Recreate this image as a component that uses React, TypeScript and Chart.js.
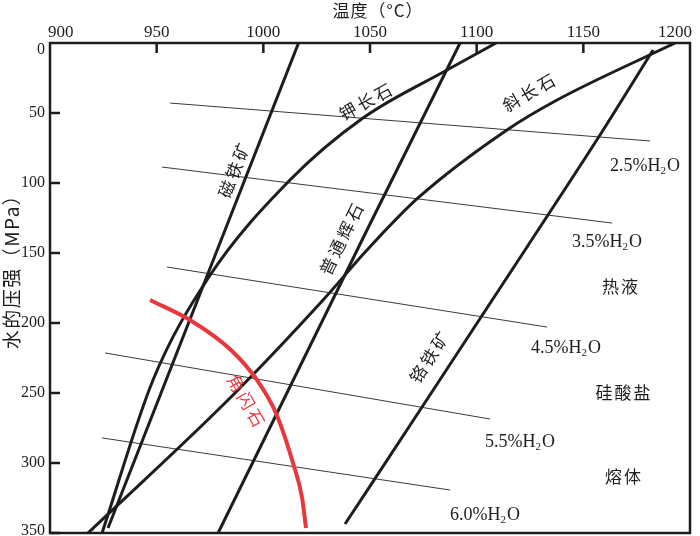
import React, { useEffect, useRef } from 'react';
import { Chart, registerables } from 'chart.js';

Chart.register(...registerables);

// ---- axis ticks ----
const tempTicks = [900, 950, 1000, 1050, 1100, 1150, 1200];
const pressTicks = [0, 50, 100, 150, 200, 250, 300, 350];

// ---- mineral curves (temperature °C, water pressure MPa) ----
const magnetiteT = [1016.5, 927.2];
const magnetiteP = [0, 346.4];

const kfeldsparT = [1109.1, 1086.1, 1046.7, 1012.5, 974.1, 948.3, 924.4];
const kfeldsparP = [0, 19.3, 53.6, 97.9, 168.0, 240.7, 350];

const augiteT = [1092.2, 1048.6, 978.8];
const augiteP = [0, 133.6, 350];

const plagioclaseT = [1193.0, 1137.7, 1114.2, 1072.5, 1048.6, 1028.0, 985.8, 917.8];
const plagioclaseP = [0, 40.7, 62.1, 110.7, 147.9, 183.6, 251.4, 350];

const chromiteT = [1182.7, 1156.9, 1123.6, 1074.4, 1038.3];
const chromiteP = [5.0, 67.9, 145.7, 260.0, 343.6];

const amphiboleT = [946.9, 965.6, 984.8, 997.0, 1005.9, 1013.9, 1018.1, 1020.0];
const amphiboleP = [183.6, 197.9, 219.3, 240.7, 264.3, 300.0, 324.3, 346.4];

// ---- water content isopleths ----
const h2oLabels = ['2.5', '3.5', '4.5', '5.5', '6.0'];
const h2oStartT = [956.3, 952.5, 954.8, 925.8, 924.4];
const h2oStartP = [42.9, 88.6, 160.0, 221.4, 282.1];
const h2oEndT = [1181.3, 1163.4, 1133.0, 1106.3, 1087.5];
const h2oEndP = [70.0, 128.6, 202.9, 268.6, 319.3];
const h2oLabelT = [1178.9, 1161.1, 1141.9, 1120.3, 1103.9];
const h2oLabelP = [87.1, 141.4, 217.1, 284.3, 336.4];

// ---- text annotations ----
const mineralNames = ['磁铁矿', '钾长石', '斜长石', '普通辉石', '铬铁矿'];
const mineralLabelT = [986.5, 1048.5, 1125.0, 1036.9, 1078.1];
const mineralLabelP = [90.0, 41.5, 35.0, 139.3, 223.6];
const mineralAngles = [-69, -29, -30, -64, -57];

const amphiboleName = '角闪石';
const amphiboleLabelT = 992.3;
const amphiboleLabelP = 256.4;
const amphiboleAngle = 60;

const regionNames = ['热液', '硅酸盐', '熔体'];
const regionLabelT = [1167.7, 1169.1, 1169.1];
const regionLabelP = [174.3, 250.0, 310.0];

const xTitle = '温度（°C）';
const yTitle = '水的压强（MPa）';

const INK = '#1d1d1d';
const RED = '#e8383d';
const CJK = '"Noto Sans CJK SC", "Noto Sans", sans-serif';
const SERIF = '"Liberation Serif", "DejaVu Serif", serif';

const pts = (t: number[], p: number[]) => t.map((v, i) => ({ x: v, y: p[i] }));

const decorPlugin = {
  id: 'decor',
  afterDatasetsDraw(chart: any) {
    const { ctx, chartArea, scales } = chart;
    const { left, right, top, bottom } = chartArea;
    const xs = scales.x;
    const ys = scales.y;
    ctx.save();

    // frame
    ctx.strokeStyle = INK;
    ctx.lineWidth = 2.5;
    ctx.strokeRect(left, top, right - left, bottom - top);

    // inward tick marks
    ctx.beginPath();
    tempTicks.forEach((v) => {
      if (v <= xs.min || v >= xs.max) return;
      const px = xs.getPixelForValue(v);
      ctx.moveTo(px, top);
      ctx.lineTo(px, top + 10);
    });
    pressTicks.forEach((v) => {
      if (v <= ys.min) return;
      const py = ys.getPixelForValue(v);
      ctx.moveTo(left, py);
      ctx.lineTo(left + 10, py);
    });
    ctx.stroke();

    // tick labels
    ctx.fillStyle = INK;
    ctx.font = `17px ${SERIF}`;
    ctx.textAlign = 'center';
    ctx.textBaseline = 'alphabetic';
    tempTicks.forEach((v) => {
      const s = String(v);
      const w = ctx.measureText(s).width;
      let cx = xs.getPixelForValue(v);
      cx = Math.max(cx, left - 2 + w / 2);
      cx = Math.min(cx, right + 2 - w / 2);
      ctx.fillText(s, cx, top - 6);
    });
    ctx.font = `16px ${SERIF}`;
    ctx.textAlign = 'right';
    ctx.textBaseline = 'middle';
    pressTicks.forEach((v) => {
      let cy = ys.getPixelForValue(v);
      cy = Math.max(cy, top + 7);
      cy = Math.min(cy, bottom - 2);
      ctx.fillText(String(v), left - 5, cy);
    });

    // axis titles
    ctx.textAlign = 'center';
    ctx.textBaseline = 'middle';
    ctx.font = `17px ${CJK}`;
    (ctx as any).letterSpacing = '1px';
    ctx.fillText(xTitle, (left + right) / 2 + 8, 11);
    ctx.save();
    ctx.translate(12, 267);
    ctx.rotate(-Math.PI / 2);
    ctx.font = `19px ${CJK}`;
    (ctx as any).letterSpacing = '1.5px';
    ctx.fillText(yTitle, 0, 0);
    ctx.restore();

    // mineral labels
    ctx.font = `17px ${CJK}`;
    (ctx as any).letterSpacing = '3px';
    mineralNames.forEach((name, i) => {
      ctx.save();
      ctx.translate(xs.getPixelForValue(mineralLabelT[i]), ys.getPixelForValue(mineralLabelP[i]));
      ctx.rotate((mineralAngles[i] * Math.PI) / 180);
      ctx.fillText(name, 0, 0);
      ctx.restore();
    });
    ctx.save();
    ctx.fillStyle = RED;
    ctx.translate(xs.getPixelForValue(amphiboleLabelT), ys.getPixelForValue(amphiboleLabelP));
    ctx.rotate((amphiboleAngle * Math.PI) / 180);
    ctx.fillText(amphiboleName, 0, 0);
    ctx.restore();

    (ctx as any).letterSpacing = '2px';
    regionNames.forEach((name, i) => {
      ctx.fillText(name, xs.getPixelForValue(regionLabelT[i]), ys.getPixelForValue(regionLabelP[i]));
    });
    (ctx as any).letterSpacing = '0px';

    // H2O labels with subscript
    h2oLabels.forEach((lab, i) => {
      const cx = xs.getPixelForValue(h2oLabelT[i]);
      const cy = ys.getPixelForValue(h2oLabelP[i]);
      const main = `${lab}%H`;
      const big = `18px ${SERIF}`;
      const small = `11px ${SERIF}`;
      ctx.font = big;
      const w1 = ctx.measureText(main).width;
      const w3 = ctx.measureText('O').width;
      ctx.font = small;
      const w2 = ctx.measureText('2').width;
      const total = w1 + w2 + w3 + 1;
      let x0 = cx - total / 2;
      ctx.textAlign = 'left';
      ctx.textBaseline = 'alphabetic';
      const base = cy + 6;
      ctx.font = big;
      ctx.fillText(main, x0, base);
      x0 += w1;
      ctx.font = small;
      ctx.fillText('2', x0, base + 3);
      x0 += w2 + 1;
      ctx.font = big;
      ctx.fillText('O', x0, base);
    });

    ctx.restore();
  },
};

export default function App() {
  const canvasRef = useRef<HTMLCanvasElement | null>(null);

  useEffect(() => {
    const canvas = canvasRef.current;
    if (!canvas) return;

    const mineral = (t: number[], p: number[], curved: boolean) => ({
      data: pts(t, p),
      borderColor: INK,
      borderWidth: 3,
      pointRadius: 0,
      tension: curved ? 0.4 : 0,
      cubicInterpolationMode: curved ? 'monotone' : 'default',
      fill: false,
    });

    const datasets: any[] = [
      {
        data: pts(amphiboleT, amphiboleP),
        borderColor: RED,
        borderWidth: 4,
        pointRadius: 0,
        tension: 0.4,
        cubicInterpolationMode: 'monotone',
        fill: false,
      },
      mineral(magnetiteT, magnetiteP, false),
      mineral(kfeldsparT, kfeldsparP, true),
      mineral(augiteT, augiteP, false),
      mineral(plagioclaseT, plagioclaseP, true),
      mineral(chromiteT, chromiteP, true),
    ];
    h2oLabels.forEach((_, i) => {
      datasets.push({
        data: [
          { x: h2oStartT[i], y: h2oStartP[i] },
          { x: h2oEndT[i], y: h2oEndP[i] },
        ],
        borderColor: '#3a3a3a',
        borderWidth: 1,
        pointRadius: 0,
        tension: 0,
        fill: false,
      });
    });

    const chart = new Chart(canvas, {
      type: 'line',
      data: { datasets },
      options: {
        animation: false,
        responsive: false,
        devicePixelRatio: 1,
        layout: { autoPadding: false, padding: { left: 50, top: 43, right: 10, bottom: 3 } },
        plugins: { legend: { display: false }, tooltip: { enabled: false } },
        scales: {
          x: {
            type: 'linear',
            display: false,
            min: tempTicks[0],
            max: tempTicks[tempTicks.length - 1],
          },
          y: {
            type: 'linear',
            display: false,
            reverse: true,
            min: pressTicks[0],
            max: pressTicks[pressTicks.length - 1],
          },
        },
      },
      plugins: [decorPlugin],
    } as any);

    return () => chart.destroy();
  }, []);

  return (
    <div style={{ position: 'absolute', left: 0, top: 0, width: 700, height: 536, background: '#fff' }}>
      <canvas ref={canvasRef} width={700} height={536} style={{ display: 'block' }} />
    </div>
  );
}
